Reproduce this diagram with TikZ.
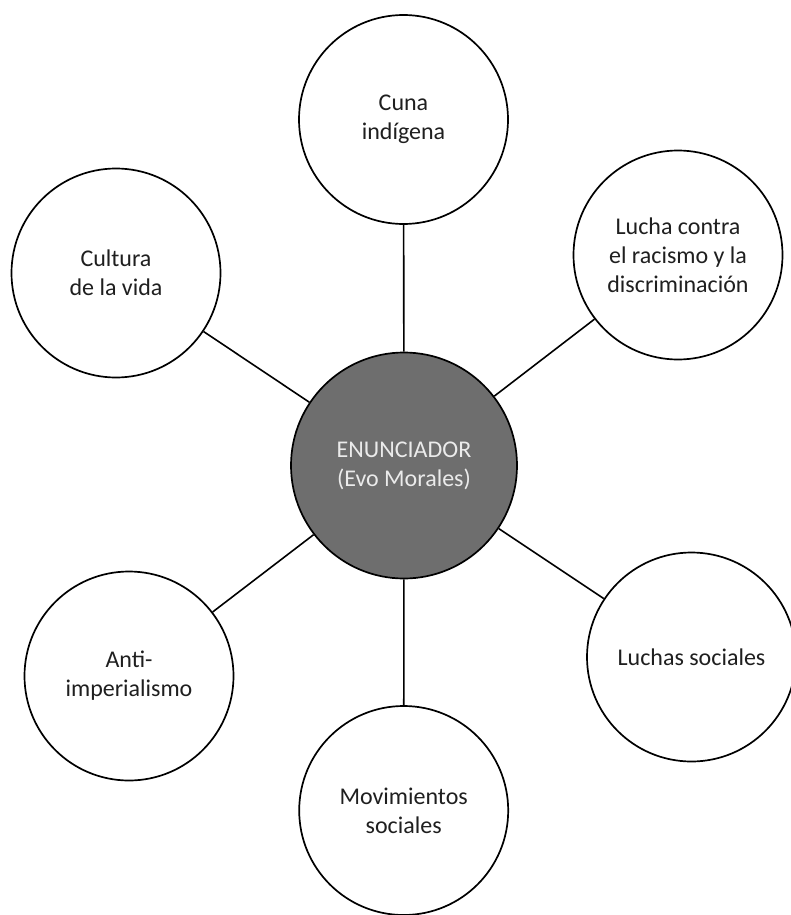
\documentclass[tikz,border=0pt]{standalone}
\usepackage{fontspec}
\setmainfont{Carlito}
\usetikzlibrary{positioning}

\begin{document}
\begin{tikzpicture}[
    x=1pt, y=-1pt,
    font=\fontsize{24}{29}\selectfont,
    topic/.style={circle, draw=black, line width=1.7pt, fill=white, text=black!88, align=center, inner sep=0pt, minimum size=209pt},
    hub/.style={circle, draw=black, line width=1.7pt, fill=black!57, text=black!8, align=center, inner sep=0pt, minimum size=226pt},
    line/.style={line width=1.6pt}
]
\useasboundingbox (0,0) rectangle (791,915);

\node[hub] (hub) at (404,465.5) {ENUNCIADOR\\(Evo Morales)};

\node[topic] (cuna) at (403.5,119.5) {Cuna\\indígena};
\node[topic] (cultura) at (116,273) {Cultura\\de la vida};
\node[topic] (racismo) at (678,255) {Lucha contra\\el racismo y la\\discriminación};
\node[topic] (anti) at (129,676) {Anti-\\imperialismo};
\node[topic] (luchas) at (691.5,657) {Luchas sociales};
\node[topic] (movim) at (403.7,810.5) {Movimientos\\sociales};

% spokes from the hub
\foreach \t in {cuna, cultura, racismo, anti, luchas, movim}
    \draw[line] (hub) -- (\t);
\end{tikzpicture}
\end{document}
